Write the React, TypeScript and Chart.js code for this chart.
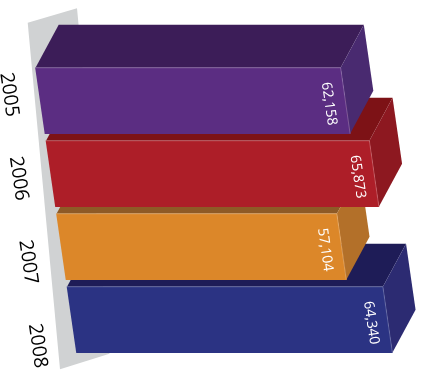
import React, { useEffect, useRef } from "react";
import { Chart, registerables } from "chart.js";

Chart.register(...registerables);

const years = ["2005", "2006", "2007", "2008"];
const unitsSold = [62158, 65873, 57104, 64340];
const frontColors = ["#5B2D82", "#AD1E28", "#DC8729", "#2B3383"];
const topColors = ["#3C1D58", "#7D1216", "#8E5A26", "#1E1C57"];
const sideColors = ["#492A70", "#8D1820", "#B37029", "#2C2B72"];

const SKEW = 0.144;
const DEPTH_X = 23.2;
const DEPTH_Y = -43;
const YEAR_STEP_RATIO = 83.7 / 73;

// Paints the tilted wall, the extruded faces of each bar and the rotated text.
const extrudedBars = {
  id: "extrudedBars",
  beforeDatasetsDraw(chart: any) {
    const { ctx, chartArea: a } = chart;
    ctx.save();
    ctx.fillStyle = "#D0D2D3";
    ctx.beginPath();
    ctx.moveTo(a.left - 7.3, a.top - 41.5);
    ctx.lineTo(a.left + 42, a.top - 56);
    ctx.lineTo(a.left + 74.5, a.bottom - 2.5);
    ctx.lineTo(a.left + 25, a.bottom + 13);
    ctx.closePath();
    ctx.fill();
    ctx.restore();

    const yScale = chart.scales.y;
    const first = yScale.getPixelForTick(0);
    ctx.save();
    ctx.fillStyle = "#000";
    ctx.font = "19.5px 'Open Sans'";
    ctx.textAlign = "center";
    ctx.textBaseline = "middle";
    years.forEach((year, i) => {
      const py = yScale.getPixelForTick(i);
      const ly = first - 6 + (py - first) * YEAR_STEP_RATIO;
      ctx.save();
      ctx.translate(a.left - 26 + ((py - first) / 73) * 9.5, ly);
      ctx.rotate(Math.PI / 2 - Math.atan(SKEW));
      ctx.fillText(year, 0, 0);
      ctx.restore();
    });
    ctx.restore();
  },
  beforeDatasetDraw(chart: any, args: any) {
    const { ctx, chartArea: a } = chart;
    const bars = args.meta.data;
    const skewX = (x: number, y: number) => x + SKEW * (y - a.top);
    const poly = (pts: number[][], fill: string) => {
      ctx.fillStyle = fill;
      ctx.beginPath();
      pts.forEach(([x, y], i) => (i ? ctx.lineTo(x, y) : ctx.moveTo(x, y)));
      ctx.closePath();
      ctx.fill();
    };

    // Lower bars go first so the ones above overlap their top faces.
    for (let i = bars.length - 1; i >= 0; i--) {
      const bar = bars[i];
      const top = bar.y - bar.height / 2;
      const bottom = bar.y + bar.height / 2;
      const tl = [skewX(bar.base, top), top];
      const tr = [skewX(bar.x, top), top];
      const br = [skewX(bar.x, bottom), bottom];
      const back = (p: number[]) => [p[0] + DEPTH_X, p[1] + DEPTH_Y];

      poly([tl, tr, back(tr), back(tl)], topColors[i]);
      poly([tr, br, back(br), back(tr)], sideColors[i]);

      ctx.save();
      ctx.transform(1, 0, SKEW, 1, -SKEW * a.top, 0);
      bar.draw(ctx, a);
      ctx.restore();

      // Pale rim along the lit edges of the front face.
      ctx.save();
      ctx.strokeStyle = "rgba(255,255,255,0.22)";
      ctx.lineWidth = 1;
      ctx.beginPath();
      ctx.moveTo(tl[0], tl[1]);
      ctx.lineTo(tr[0], tr[1]);
      ctx.lineTo(br[0], br[1]);
      ctx.stroke();
      ctx.restore();

      ctx.save();
      ctx.fillStyle = "#FFFFFF";
      ctx.font = "14px 'Open Sans'";
      ctx.textAlign = "center";
      ctx.textBaseline = "middle";
      ctx.translate(skewX(bar.x, bar.y) - 16.5, bar.y + 3);
      ctx.rotate(Math.PI / 2 - Math.atan(SKEW));
      ctx.fillText(unitsSold[i].toLocaleString("en-US"), 0, 0);
      ctx.restore();
    }
    return false;
  },
};

export default function App() {
  const canvasRef = useRef<HTMLCanvasElement>(null);

  useEffect(() => {
    const chart = new Chart(canvasRef.current!, {
      type: "bar",
      data: {
        labels: years,
        datasets: [
          {
            data: unitsSold,
            backgroundColor: frontColors,
            borderWidth: 0,
            barThickness: 66,
          },
        ],
      },
      options: {
        indexAxis: "y",
        responsive: false,
        animation: false,
        layout: { padding: { left: 35, right: 45.4, top: 64.25, bottom: 13.75 } },
        plugins: { legend: { display: false }, tooltip: { enabled: false } },
        scales: {
          x: { display: false, min: 0, max: 70000 },
          y: { display: false },
        },
      },
      plugins: [extrudedBars],
    } as any);
    return () => chart.destroy();
  }, []);

  return (
    <div style={{ position: "absolute", left: 0, top: 0, background: "#fff" }}>
      <canvas ref={canvasRef} width={424} height={370} style={{ display: "block" }} />
    </div>
  );
}
